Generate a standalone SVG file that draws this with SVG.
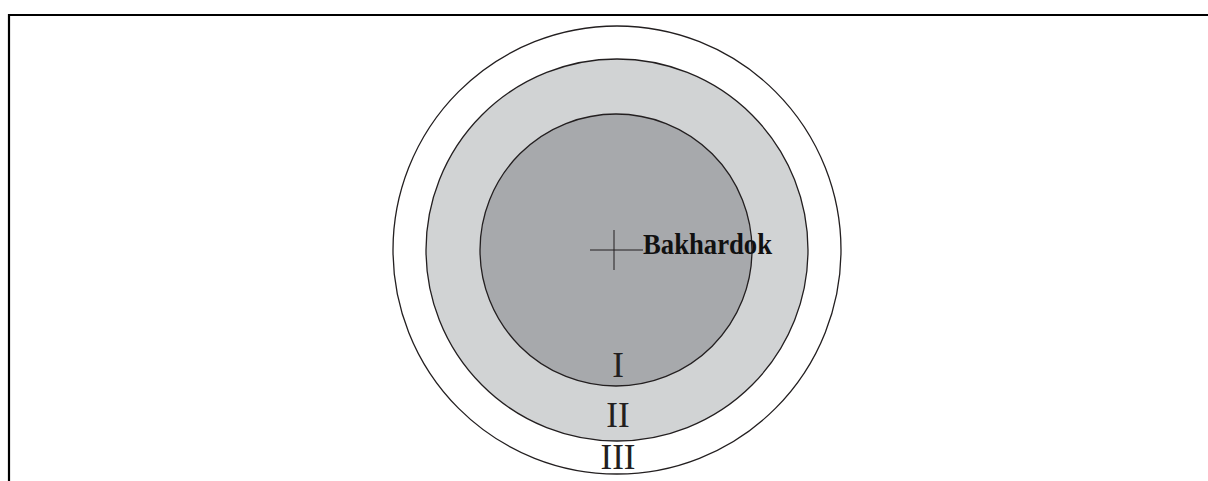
<svg xmlns="http://www.w3.org/2000/svg" width="1208" height="481" viewBox="0 0 1208 481">
<style>
.ring{stroke:#231f20;stroke-width:1.3}
.num{font-family:"Liberation Serif",serif;font-size:35px;fill:#231f20;text-anchor:middle}
.lbl{font-family:"Liberation Serif",serif;font-size:30px;font-weight:bold;fill:#111}
</style>
<rect width="1208" height="481" fill="#fff"/>
<g id="frame" stroke="#000" stroke-width="2.2" fill="none">
<path d="M9 481 V15 H1208"/>
</g>
<g id="zone-III"><circle class="ring" cx="617" cy="250" r="224" fill="#fff"/></g>
<g id="zone-II"><circle class="ring" cx="617" cy="250" r="191" fill="#d1d3d4"/></g>
<g id="zone-I"><circle class="ring" cx="616" cy="250" r="136" fill="#a7a9ac"/></g>
<g id="marker" stroke="#231f20" stroke-width="1">
<line x1="590" y1="250" x2="643" y2="250"/>
<line x1="614" y1="230" x2="614" y2="270"/>
</g>
<g id="labels">
<text class="lbl" x="643" y="254" textLength="129" lengthAdjust="spacingAndGlyphs">Bakhardok</text>
<text class="num" x="618" y="377">I</text>
<text class="num" x="618" y="427">II</text>
<text class="num" x="618" y="469">III</text>
</g>
</svg>
